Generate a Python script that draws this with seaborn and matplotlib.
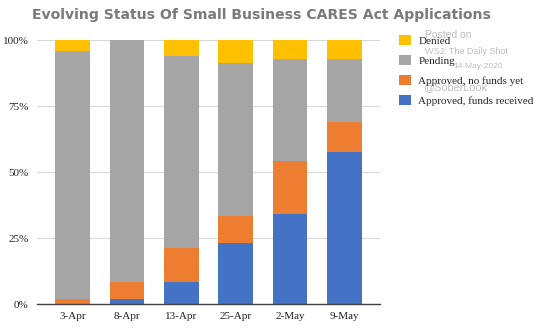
import matplotlib
matplotlib.use("Agg")
import matplotlib.pyplot as plt
import seaborn as sns
import pandas as pd
import numpy as np
from matplotlib.patches import Patch

dates = ["3-Apr", "8-Apr", "13-Apr", "25-Apr", "2-May", "9-May"]
funds_received = [0.0, 1.8, 8.2, 23.0, 34.2, 57.7]
no_funds_yet = [1.8, 6.5, 13.1, 10.3, 20.1, 11.2]
pending = [94.0, 91.7, 72.8, 58.1, 38.4, 23.8]
denied = [4.2, 0.0, 5.9, 8.6, 7.3, 7.3]

series_names = ["Approved, funds received", "Approved, no funds yet", "Pending", "Denied"]
colors = ["#4472C4", "#ED7D31", "#A5A5A5", "#FFC000"]

df = pd.DataFrame({"date": dates,
                   "Approved, funds received": funds_received,
                   "Approved, no funds yet": no_funds_yet,
                   "Pending": pending,
                   "Denied": denied})
cum = df[series_names].cumsum(axis=1)

sns.set_style("white")
fig = plt.figure(figsize=(5.4, 3.32), dpi=100)
ax = fig.add_axes([37/540, 28/332, (380-37)/540, (304-40)/332])

for name, col in reversed(list(zip(series_names, colors))):
    sns.barplot(x=df["date"], y=cum[name], color=col, width=0.64,
                saturation=1, ax=ax, zorder=2, edgecolor="none")

ax.set_xlim(-0.66, 5.66)
ax.set_ylim(0, 100)
ax.set_yticks([0, 25, 50, 75, 100])
ax.set_yticklabels(["0%", "25%", "50%", "75%", "100%"])
ax.yaxis.grid(True, color="#D9D9D9", linewidth=0.8, zorder=0)
ax.set_axisbelow(True)
for s in ["left", "right", "top"]:
    ax.spines[s].set_visible(False)
ax.spines["bottom"].set_color("#404040")
ax.spines["bottom"].set_linewidth(1.0)
ax.spines["bottom"].set_zorder(3)
ax.set_xlabel("")
ax.set_ylabel("")
ax.tick_params(axis="both", length=0, labelsize=8, pad=6)
for lab in ax.get_xticklabels() + ax.get_yticklabels():
    lab.set_fontfamily("Liberation Serif")
    lab.set_color("#222222")

fig.text(261/540, 1 - 15/332, "Evolving Status Of Small Business CARES Act Applications",
         ha="center", va="center", fontsize=10.1, fontweight="heavy",
         color="#7A7A7A", family="DejaVu Sans")

handles = [Patch(facecolor=c, edgecolor="none") for c in reversed(colors)]
leg = fig.legend(handles, list(reversed(series_names)), loc="upper left",
                 bbox_to_anchor=(395/540, 1 - 31/332), frameon=False,
                 prop={"family": "Liberation Serif", "size": 8},
                 handlelength=1.0, handleheight=1.0, labelspacing=0.83,
                 handletextpad=0.7, borderaxespad=0)

wm = "#BDBDBD"
fig.text(425/540, 1 - 35/332, "Posted on", fontsize=7.5, color=wm, va="center", family="Liberation Sans")
fig.text(425/540, 1 - 51/332, "WSJ: The Daily Shot", fontsize=6.5, color=wm, va="center", family="Liberation Sans")
fig.text(453/540, 1 - 67/332, "14-May-2020", fontsize=6, color=wm, va="center", family="Liberation Sans")
fig.text(423/540, 1 - 87/332, "@SoberLook", fontsize=7.8, color=wm, va="center", family="Liberation Sans")

fig.savefig("out.png", dpi=100)
